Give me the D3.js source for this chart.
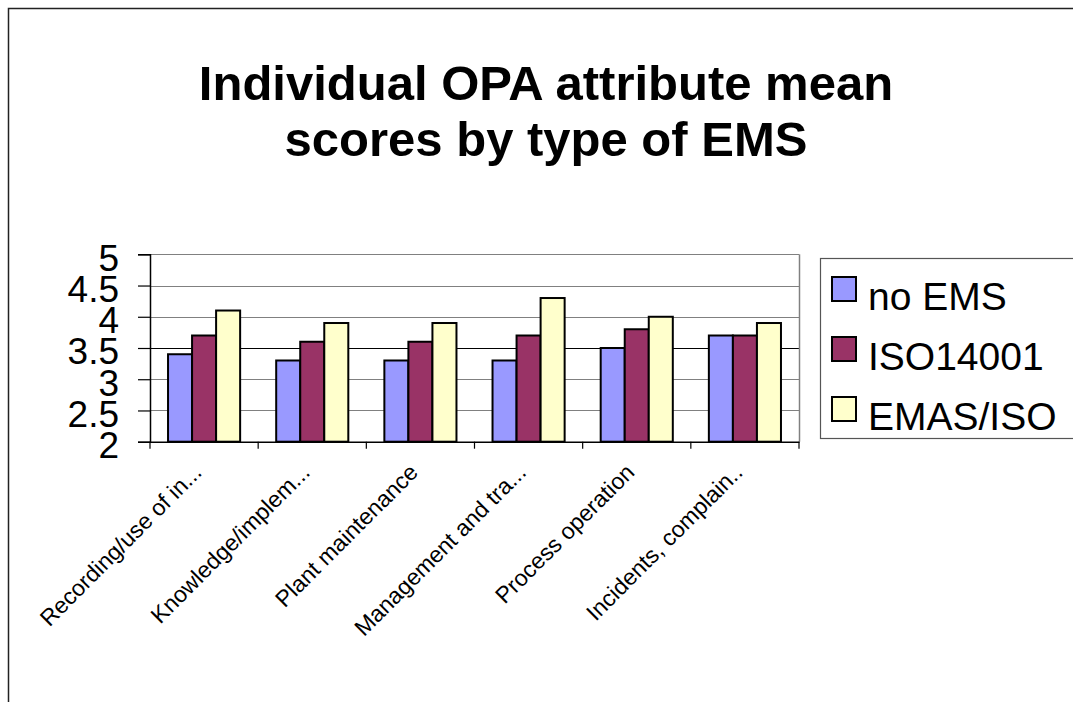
<!DOCTYPE html>
<html>
<head>
<meta charset="utf-8">
<script src="https://cdn.jsdelivr.net/npm/d3@7"></script>
<style>
  body { margin: 0; background: #fff; }
  svg { display: block; font-family: "Liberation Sans", Arial, sans-serif; }
</style>
</head>
<body>
<div id="chart"></div>
<script>
var categories = ["Recording/use of in...", "Knowledge/implem...", "Plant maintenance",
                  "Management and tra...", "Process operation", "Incidents, complain.."];
var seriesNames = ["no EMS", "ISO14001", "EMAS/ISO"];
var noEMS    = [3.4, 3.3, 3.3, 3.3, 3.5, 3.7];
var iso14001 = [3.7, 3.6, 3.6, 3.7, 3.8, 3.7];
var emasIso  = [4.1, 3.9, 3.9, 4.3, 4.0, 3.9];
var yTicks = [2, 2.5, 3, 3.5, 4, 4.5, 5];
var colors = ["#9999ff", "#993366", "#ffffcc"];

var seriesValues = [noEMS, iso14001, emasIso];
var rows = categories.map(function(c, i) {
  return { cat: c, vals: seriesValues.map(function(s) { return s[i]; }) };
});

var width = 1073, height = 702;
var svg = d3.select("#chart").append("svg")
  .attr("width", width)
  .attr("height", height);

// outer frame (top and left edges visible)
svg.append("path")
  .attr("d", "M8.5," + height + "V8.5H" + width)
  .attr("fill", "none")
  .attr("stroke", "#222")
  .attr("stroke-width", 1.5);

// title
var title = svg.append("text")
  .attr("text-anchor", "middle")
  .attr("font-weight", "bold")
  .attr("font-size", 49)
  .attr("fill", "#000");
title.append("tspan").attr("x", 546).attr("y", 100).text("Individual OPA attribute mean");
title.append("tspan").attr("x", 546).attr("y", 156).text("scores by type of EMS");

var plot = { left: 150, right: 799, top: 254.3, bottom: 441.7 };

var x0 = d3.scaleBand()
  .domain(categories)
  .range([plot.left, plot.right]);
var x1 = d3.scaleBand()
  .domain(seriesNames)
  .range([x0.bandwidth() / 6, x0.bandwidth() * 5 / 6]);
var y = d3.scaleLinear()
  .domain([2, 5])
  .range([plot.bottom, plot.top]);

// gridlines
svg.append("g")
  .selectAll("line")
  .data(yTicks.filter(function(d) { return d > 2; }))
  .enter().append("line")
  .attr("x1", plot.left)
  .attr("x2", plot.right)
  .attr("y1", function(d) { return Math.round(y(d)) + 0.5; })
  .attr("y2", function(d) { return Math.round(y(d)) + 0.5; })
  .attr("stroke", function(d) { return d === 3.5 ? "#000" : "#808080"; })
  .attr("stroke-width", 1.2);

// right plot border
svg.append("line")
  .attr("x1", plot.right + 0.5).attr("x2", plot.right + 0.5)
  .attr("y1", plot.top).attr("y2", plot.bottom)
  .attr("stroke", "#808080")
  .attr("stroke-width", 1.5);

// bars
var groups = svg.append("g")
  .selectAll("g")
  .data(rows)
  .enter().append("g")
  .attr("transform", function(d) { return "translate(" + x0(d.cat) + ",0)"; });

groups.selectAll("rect")
  .data(function(d) { return d.vals.map(function(v, i) { return { name: seriesNames[i], v: v, i: i }; }); })
  .enter().append("rect")
  .attr("x", function(d) { return x1(d.name); })
  .attr("y", function(d) { return y(d.v); })
  .attr("width", x1.bandwidth())
  .attr("height", function(d) { return y(2) - y(d.v); })
  .attr("fill", function(d) { return colors[d.i]; })
  .attr("stroke", "#000")
  .attr("stroke-width", 2);

// y axis
var yAxis = d3.axisLeft(y)
  .tickValues(yTicks)
  .tickFormat(d3.format("~g"))
  .tickSize(12)
  .tickPadding(19);
var yg = svg.append("g")
  .attr("transform", "translate(" + plot.left + ",0)")
  .call(yAxis);
yg.select(".domain").attr("stroke", "#000").attr("stroke-width", 1.5);
yg.selectAll(".tick line").attr("stroke", "#000").attr("stroke-width", 1.2);
yg.selectAll(".tick text")
  .attr("font-size", 37)
  .attr("font-family", "Liberation Sans, Arial, sans-serif")
  .attr("fill", "#000")
  .attr("dy", "0.43em");

// x axis
var xAxis = d3.axisBottom(x0).tickSize(0).tickFormat("");
var xg = svg.append("g")
  .attr("transform", "translate(0," + plot.bottom + ")")
  .call(xAxis);
xg.select(".domain").attr("stroke", "#000").attr("stroke-width", 1.5);
xg.selectAll(".tick").remove();

// category boundary ticks
var bounds = categories.map(function(c) { return x0(c); }).concat([plot.right]);
svg.append("g")
  .selectAll("line")
  .data(bounds)
  .enter().append("line")
  .attr("x1", function(d) { return d; })
  .attr("x2", function(d) { return d; })
  .attr("y1", plot.bottom)
  .attr("y2", plot.bottom + 7)
  .attr("stroke", "#000")
  .attr("stroke-width", 1.2);

// rotated category labels
svg.append("g")
  .selectAll("text")
  .data(categories)
  .enter().append("text")
  .attr("transform", function(d) {
    return "translate(" + (x0(d) + x0.bandwidth() / 2 - 1) + "," + (plot.bottom + 32) + ") rotate(-45)";
  })
  .attr("text-anchor", "end")
  .attr("font-size", 23)
  .attr("fill", "#000")
  .text(function(d) { return d; });

// legend
var legend = svg.append("g");
legend.append("rect")
  .attr("x", 820.5).attr("y", 258.5)
  .attr("width", 260).attr("height", 180)
  .attr("fill", "#fff")
  .attr("stroke", "#555")
  .attr("stroke-width", 1.2);

var items = legend.selectAll("g")
  .data(seriesNames)
  .enter().append("g")
  .attr("transform", function(d, i) { return "translate(832," + (277 + i * 60) + ")"; });
items.append("rect")
  .attr("width", 24).attr("height", 24)
  .attr("fill", function(d, i) { return colors[i]; })
  .attr("stroke", "#000")
  .attr("stroke-width", 2);
items.append("text")
  .attr("x", 36)
  .attr("y", 33)
  .attr("font-size", 39)
  .attr("fill", "#000")
  .text(function(d) { return d; });
</script>
</body>
</html>
